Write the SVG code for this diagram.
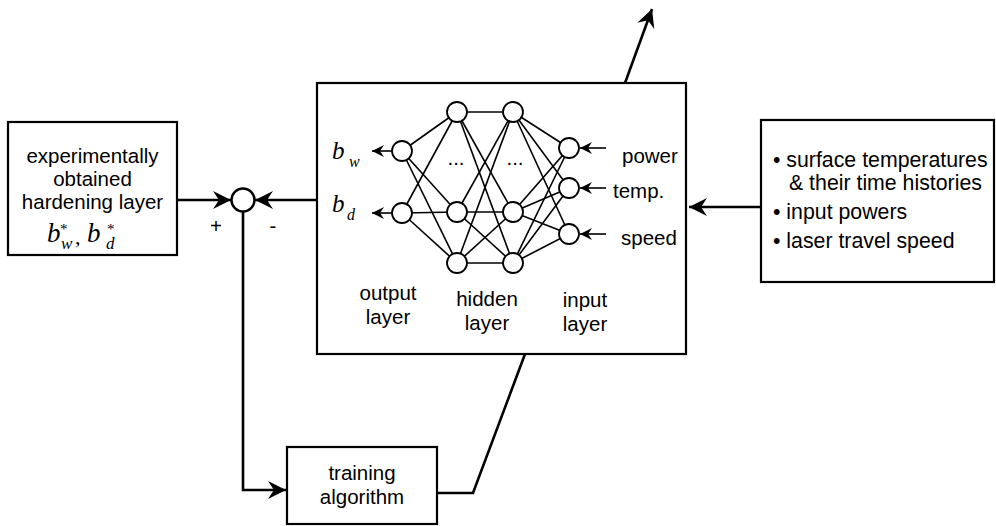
<svg xmlns="http://www.w3.org/2000/svg" width="996" height="526" viewBox="0 0 996 526">
<style>
.box{fill:#fff;stroke:#000;stroke-width:2.2}
.t{font-family:"Liberation Sans",Arial,Helvetica,sans-serif;font-size:20.5px;fill:#000}
.r{font-size:21.3px}
.m{font-family:"Liberation Serif","Times New Roman",serif;font-style:italic;fill:#000}
.u{font-style:normal}
.w{fill:none;stroke:#000;stroke-width:2.6}
.e{fill:none;stroke:#000;stroke-width:1.6}
.n{fill:#fff;stroke:#000;stroke-width:1.8}
</style>
<defs>
<marker id="big" viewBox="-19 -10 20 20" refX="0" refY="0" markerWidth="20" markerHeight="20" orient="auto" markerUnits="userSpaceOnUse"><path d="M0,0 L-18,-9 L-12,0 L-18,9 Z" fill="#000"/></marker>
<marker id="sm" viewBox="-13 -7 14 14" refX="0" refY="0" markerWidth="14" markerHeight="14" orient="auto" markerUnits="userSpaceOnUse"><path d="M0,0 L-12,-6 L-8,0 L-12,6 Z" fill="#000"/></marker>
</defs>

<g id="connectors">
<line class="w" x1="177" y1="200" x2="231" y2="200" marker-end="url(#big)"/>
<line class="w" x1="317" y1="200" x2="255" y2="200" marker-end="url(#big)"/>
<polyline class="w" points="243,211 243,490 286,490" marker-end="url(#big)"/>
<polyline class="w" points="437,493 473,493 525,354"/>
<line class="w" x1="625" y1="83" x2="652" y2="9" marker-end="url(#big)"/>
<line class="w" x1="761" y1="207" x2="689" y2="207" marker-end="url(#big)"/>
</g>

<g id="experimental">
<rect class="box" x="8" y="122" width="169" height="133"/>
<text class="t" text-anchor="middle"><tspan x="92.5" y="163">experimentally</tspan><tspan x="92.5" y="186">obtained</tspan><tspan x="92.5" y="209">hardening layer</tspan></text>
<text class="m"><tspan x="47" y="242" font-size="27">b</tspan><tspan class="u" x="60" y="234" font-size="15">*</tspan><tspan x="61" y="249" font-size="17">w</tspan><tspan class="u" x="75" y="244" font-size="22">,</tspan><tspan x="87" y="242" font-size="27">b</tspan><tspan class="u" x="107" y="234" font-size="15">*</tspan><tspan x="106" y="249" font-size="17">d</tspan></text>
</g>

<g id="sum">
<circle cx="243" cy="200" r="11.5" fill="#fff" stroke="#000" stroke-width="2.4"/>
<text class="t" font-size="16" x="216" y="233" text-anchor="middle">+</text>
<text class="t" font-size="16" x="273" y="233" text-anchor="middle">-</text>
</g>

<g id="network">
<rect class="box" x="317" y="83" width="369" height="271"/>
<g id="edges">
<line class="e" x1="402" y1="151" x2="457" y2="112"/>
<line class="e" x1="402" y1="151" x2="457" y2="212"/>
<line class="e" x1="402" y1="151" x2="457" y2="263"/>
<line class="e" x1="402" y1="213" x2="457" y2="112"/>
<line class="e" x1="402" y1="213" x2="457" y2="212"/>
<line class="e" x1="402" y1="213" x2="457" y2="263"/>
<line class="e" x1="457" y1="112" x2="513" y2="112"/>
<line class="e" x1="457" y1="112" x2="513" y2="212"/>
<line class="e" x1="457" y1="112" x2="513" y2="263"/>
<line class="e" x1="457" y1="212" x2="513" y2="112"/>
<line class="e" x1="457" y1="212" x2="513" y2="212"/>
<line class="e" x1="457" y1="212" x2="513" y2="263"/>
<line class="e" x1="457" y1="263" x2="513" y2="112"/>
<line class="e" x1="457" y1="263" x2="513" y2="212"/>
<line class="e" x1="457" y1="263" x2="513" y2="263"/>
<line class="e" x1="513" y1="112" x2="569" y2="148"/>
<line class="e" x1="513" y1="112" x2="569" y2="188"/>
<line class="e" x1="513" y1="112" x2="569" y2="234"/>
<line class="e" x1="513" y1="212" x2="569" y2="148"/>
<line class="e" x1="513" y1="212" x2="569" y2="188"/>
<line class="e" x1="513" y1="212" x2="569" y2="234"/>
<line class="e" x1="513" y1="263" x2="569" y2="148"/>
<line class="e" x1="513" y1="263" x2="569" y2="188"/>
<line class="e" x1="513" y1="263" x2="569" y2="234"/>
<line class="e" x1="392" y1="151" x2="372" y2="151" marker-end="url(#sm)"/>
<line class="e" x1="392" y1="213" x2="372" y2="213" marker-end="url(#sm)"/>
<line class="e" x1="606" y1="148" x2="580" y2="148" marker-end="url(#sm)"/>
<line class="e" x1="606" y1="188" x2="580" y2="188" marker-end="url(#sm)"/>
<line class="e" x1="606" y1="234" x2="580" y2="234" marker-end="url(#sm)"/>
</g>
<g id="nodes">
<circle class="n" cx="402" cy="151" r="10"/>
<circle class="n" cx="402" cy="213" r="10"/>
<circle class="n" cx="457" cy="112" r="10"/>
<circle class="n" cx="457" cy="212" r="10"/>
<circle class="n" cx="457" cy="263" r="10"/>
<circle class="n" cx="513" cy="112" r="10"/>
<circle class="n" cx="513" cy="212" r="10"/>
<circle class="n" cx="513" cy="263" r="10"/>
<circle class="n" cx="569" cy="148" r="10"/>
<circle class="n" cx="569" cy="188" r="10"/>
<circle class="n" cx="569" cy="234" r="10"/>
</g>
<text class="t" font-size="14" x="456" y="165" text-anchor="middle">...</text>
<text class="t" font-size="14" x="515" y="165" text-anchor="middle">...</text>
<text class="m"><tspan x="332" y="159" font-size="25">b</tspan><tspan x="349" y="167" font-size="16">w</tspan></text>
<text class="m"><tspan x="332" y="212" font-size="25">b</tspan><tspan x="347" y="220" font-size="16">d</tspan></text>
<text class="t" x="622" y="163">power</text>
<text class="t" x="613" y="198">temp.</text>
<text class="t" x="621" y="245">speed</text>
<text class="t" text-anchor="middle"><tspan x="388" y="300">output</tspan><tspan x="388" y="324">layer</tspan></text>
<text class="t" text-anchor="middle"><tspan x="487" y="306">hidden</tspan><tspan x="487" y="330">layer</tspan></text>
<text class="t" text-anchor="middle"><tspan x="585" y="307">input</tspan><tspan x="585" y="331">layer</tspan></text>
</g>

<g id="inputs">
<rect class="box" x="761" y="120" width="233" height="162"/>
<text class="t r"><tspan x="773" y="167">• surface temperatures</tspan><tspan x="789" y="190">&amp; their time histories</tspan><tspan x="773" y="219">• input powers</tspan><tspan x="773" y="248">• laser travel speed</tspan></text>
</g>

<g id="training">
<rect class="box" x="287" y="447" width="150" height="77"/>
<text class="t" text-anchor="middle"><tspan x="362" y="480">training</tspan><tspan x="362" y="504">algorithm</tspan></text>
</g>
</svg>
